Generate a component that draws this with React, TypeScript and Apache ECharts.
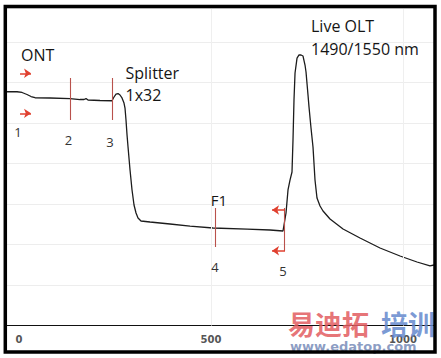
import React, { useEffect, useRef } from "react";
import * as echarts from "echarts";

// OTDR trace: distance (m) and relative level (dB)
const distance = [
  -31.3, -5.2, 7.8, 20.8, 31.3, 41.7, 80.7, 132.8, 158.9, 169.3, 174.5, 179.7, 210.9, 242.2,
  247.4, 252.6, 257.8, 263.0, 268.2, 273.4, 276.0, 278.6, 281.3, 283.9, 289.1, 294.3, 299.5,
  304.7, 309.9, 317.7, 341.1, 393.2, 445.3, 505.2, 593.8, 653.6, 687.5, 690.1, 695.3, 700.5,
  705.7, 710.9, 713.5, 716.1, 718.8, 724.0, 729.2, 734.4, 739.6, 744.8, 747.4, 752.6, 755.2,
  760.4, 765.6, 770.8, 776.0, 783.9, 791.7, 809.9, 843.8, 888.0, 940.1, 992.2, 1036.5, 1070.3,
  1080.7,
];
const level = [
  28.86, 28.86, 28.77, 28.52, 28.27, 28.12, 28.09, 28.02, 27.9, 27.9, 28.02, 27.84, 27.78, 27.75,
  28.21, 28.58, 28.64, 28.46, 28.09, 27.47, 26.85, 25.37, 23.52, 22.04, 19.2, 16.73, 14.88,
  13.89, 13.27, 12.9, 12.78, 12.53, 12.28, 12.04, 11.91, 11.79, 11.67, 12.41, 13.89, 16.73,
  17.96, 18.95, 22.9, 27.84, 31.17, 33.02, 33.4, 33.4, 33.27, 32.16, 31.3, 28.46, 26.98,
  24.38, 22.04, 17.96, 15.74, 14.75, 14.14, 13.15, 11.91, 10.8, 9.57, 8.58, 7.84, 7.35,
  7.47,
];

// event markers 2..5 (vertical cursor lines): distance, top level, bottom level
const cursorDistance = [132.8, 242.2, 510.4, 691.4];
const cursorTop = [30.56, 30.56, 14.51, 14.51];
const cursorBottom = [25.37, 25.37, 9.69, 9.2];

// direction arrows: start distance, end distance (head), level
const arrowStart = [2.6, 2.6, 692.7, 692.7];
const arrowEnd = [31.3, 31.3, 658.9, 658.9];
const arrowLevel = [31.14, 26.2, 14.26, 9.23];

const xTickValues = [0, 500, 1000];
const xGridValues = [500, 1000];
const xMin = -31.3;
const xMax = 1080.7;
const yMin = 0;
const yMax = 39.2;
const yInterval = 5;

const FONT = "'Open Sans', 'Noto Sans', sans-serif";

export default function App() {
  const ref = useRef<HTMLDivElement>(null);

  useEffect(() => {
    if (!ref.current) return;
    const chart = echarts.init(ref.current, undefined, { renderer: "svg" });

    const markData: any[] = [];
    xGridValues.forEach((v) => {
      markData.push([
        { coord: [v, yMin], symbol: "none", lineStyle: { color: "#efefef", width: 1, type: "solid" } },
        { coord: [v, yMax], symbol: "none" },
      ]);
    });
    cursorDistance.forEach((d, i) => {
      markData.push([
        { coord: [d, cursorTop[i]], symbol: "none", lineStyle: { color: "#b9514c", width: 1.1, type: "solid" } },
        { coord: [d, cursorBottom[i]], symbol: "none" },
      ]);
    });
    arrowStart.forEach((s, i) => {
      markData.push([
        { coord: [s, arrowLevel[i]], symbol: "none", lineStyle: { color: "#e0402f", width: 1.5, type: "solid" } },
        { coord: [arrowEnd[i], arrowLevel[i]], symbol: "arrow", symbolSize: [7, 7] },
      ]);
    });

    const txt = (text: string, x: number, y: number, size: number, align = "left", color = "#151515") => ({
      type: "text",
      x,
      y,
      z: 10,
      silent: true,
      style: {
        text,
        fill: color,
        fontSize: size,
        fontFamily: FONT,
        textAlign: align,
        textVerticalAlign: "middle",
      },
    });

    chart.setOption({
      animation: false,
      backgroundColor: "#ffffff",
      grid: { left: 7, right: 7, top: 8, bottom: 32.5, containLabel: false },
      xAxis: {
        type: "value",
        min: xMin,
        max: xMax,
        axisLine: { show: true, lineStyle: { color: "#111", width: 1.2 } },
        axisTick: { show: true, inside: true, length: 4, customValues: xGridValues, lineStyle: { color: "#333" } },
        axisLabel: {
          show: true,
          customValues: xTickValues,
          formatter: (v: number) => String(v),
          margin: 9,
          fontSize: 10,
          fontWeight: "bold",
          fontFamily: "'DejaVu Sans', sans-serif",
          color: "#555555",
        },
        splitLine: { show: false },
      },
      yAxis: {
        type: "value",
        min: yMin,
        max: yMax,
        interval: yInterval,
        axisLine: { show: false },
        axisTick: { show: false },
        axisLabel: { show: false },
        splitLine: { show: true, lineStyle: { color: "#ededed", width: 1 } },
      },
      series: [
        {
          type: "line",
          data: distance.map((d, i) => [d, level[i]]),
          showSymbol: false,
          symbol: "none",
          silent: true,
          lineStyle: { color: "#1c1c1c", width: 1.3 },
          z: 3,
          markLine: {
            silent: true,
            symbol: "none",
            label: { show: false },
            emphasis: { disabled: true },
            data: markData,
          },
        },
      ],
      graphic: [
        txt("ONT", 21, 55, 16),
        txt("Splitter", 125.5, 73, 16),
        txt("1x32", 125.5, 95, 16),
        txt("Live OLT", 311, 26, 16),
        txt("1490/1550 nm", 311, 49, 16),
        txt("F1", 219, 200, 15, "center"),
        txt("1", 18, 132, 13, "center", "#333333"),
        txt("2", 68.5, 140, 13, "center", "#333333"),
        txt("3", 110, 142, 13, "center", "#333333"),
        txt("4", 215, 267, 13, "center", "#333333"),
        txt("5", 283, 271, 13, "center", "#333333"),
        {
          type: "text",
          x: 288,
          y: 323,
          z: 20,
          silent: true,
          style: {
            text: "易迪拓",
            fill: "rgba(226,92,96,0.85)",
            fontSize: 27,
            fontWeight: "bold",
            fontFamily: "'Noto Sans CJK SC', sans-serif",
            textVerticalAlign: "middle",
          },
        },
        {
          type: "text",
          x: 381,
          y: 323,
          z: 20,
          silent: true,
          style: {
            text: "培训",
            fill: "rgba(100,136,205,0.85)",
            fontSize: 27,
            fontWeight: "bold",
            fontFamily: "'Noto Sans CJK SC', sans-serif",
            textVerticalAlign: "middle",
          },
        },
        {
          type: "text",
          x: 290,
          y: 346,
          z: 20,
          silent: true,
          style: {
            text: "www.edatop.com",
            fill: "rgba(120,140,185,0.85)",
            fontSize: 13,
            fontWeight: "bold",
            fontFamily: "'DejaVu Sans', sans-serif",
            textVerticalAlign: "middle",
          },
        },
        {
          type: "rect",
          z: 30,
          silent: true,
          shape: { x: 5.3, y: 6.6, width: 429.7, height: 345.4 },
          style: { fill: "none", stroke: "#000", lineWidth: 3.5 },
        },
      ],
    });

    return () => chart.dispose();
  }, []);

  return <div ref={ref} style={{ width: 441, height: 358, position: "absolute", left: 0, top: 0 }} />;
}
